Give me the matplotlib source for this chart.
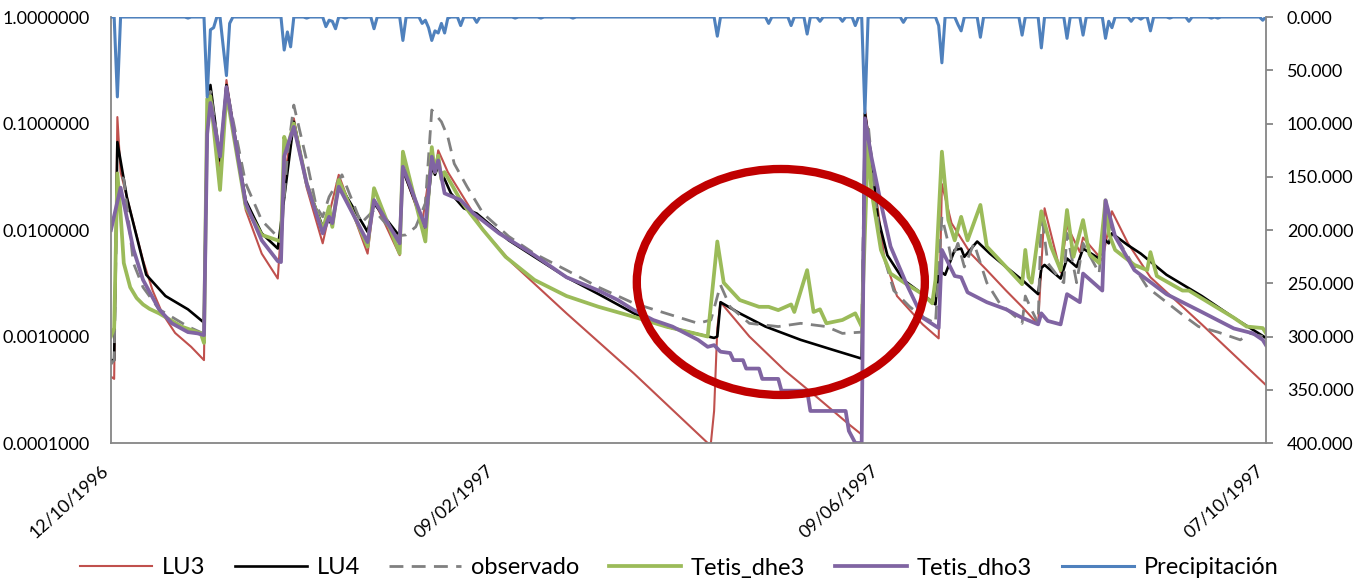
import matplotlib
matplotlib.use("Agg")
import matplotlib.pyplot as plt
import matplotlib.dates as mdates
from matplotlib.patches import Ellipse
from matplotlib.ticker import FuncFormatter, NullLocator
import numpy as np

plt.rcParams['font.family'] = ['Lato', 'DejaVu Sans']

inicio = np.datetime64('1996-10-12')

# caudales simulados y observado (dias desde el 12/10/1996)
lu3_dia = [0, 1, 2, 3, 7, 10, 13, 16, 20, 25,
           29, 30, 31, 34, 36, 42, 47, 52, 54, 57,
           61, 66, 68, 71, 80, 82, 90, 91, 97, 99,
           100, 101, 102, 105, 113, 116, 125, 142, 163, 186,
           187, 188, 189, 190, 199, 210, 220, 230, 234, 235,
           238, 241, 245, 253, 258, 259, 262, 268, 273, 279,
           284, 289, 291, 296, 298, 302, 303, 309, 312, 317,
           324, 340, 360]
lu3_val = [0.00042, 0.0004, 0.115, 0.035, 0.0117, 0.0052, 0.0027, 0.00165, 0.00108, 0.0008,
           0.0006, 0.1, 0.215, 0.039, 0.256, 0.0154, 0.006, 0.0035, 0.03, 0.112,
           0.025, 0.0075, 0.014, 0.033, 0.006, 0.019, 0.0058, 0.0366, 0.0116, 0.03,
           0.045, 0.035, 0.056, 0.035, 0.0143, 0.01, 0.0049, 0.00165, 0.00045, 0.0001,
           0.0001, 0.0002, 0.0012, 0.0021, 0.001, 0.00048, 0.00027, 0.00015, 0.00012, 0.14,
           0.0274, 0.0056, 0.0024, 0.0013, 0.00096, 0.027, 0.0116, 0.006, 0.0042, 0.0027,
           0.0019, 0.0013, 0.016, 0.004, 0.011, 0.0062, 0.0085, 0.0052, 0.015, 0.0075,
           0.0036, 0.0013, 0.00035]

lu4_dia = [0, 1, 2, 5, 11, 17, 24, 29, 30, 31,
           34, 36, 42, 47, 52, 54, 57, 61, 66, 68,
           69, 71, 80, 82, 90, 91, 98, 100, 101, 102,
           104, 106, 110, 114, 124, 132, 142, 152, 163, 173,
           188, 189, 190, 196, 204, 215, 225, 234, 235, 237,
           239, 242, 247, 253, 257, 258, 260, 263, 265, 266,
           270, 274, 279, 284, 289, 290, 291, 296, 298, 301,
           303, 308, 310, 311, 312, 317, 321, 329, 340, 350,
           360]
lu4_val = [0.0006, 0.0006, 0.067, 0.02, 0.0038, 0.0024, 0.0018, 0.00135, 0.1, 0.23,
           0.045, 0.23, 0.019, 0.0093, 0.0067, 0.02, 0.104, 0.0274, 0.0107, 0.0124,
           0.011, 0.0274, 0.0096, 0.0178, 0.0087, 0.0366, 0.0103, 0.04, 0.033, 0.04,
           0.03, 0.022, 0.016, 0.0143, 0.008, 0.0056, 0.0036, 0.0025, 0.00165, 0.00124,
           0.00097, 0.001, 0.0021, 0.00165, 0.00124, 0.00093, 0.00075, 0.00062, 0.125, 0.049,
           0.0133, 0.0058, 0.0034, 0.0025, 0.002, 0.0042, 0.0038, 0.0065, 0.0067, 0.0056,
           0.0078, 0.006, 0.0045, 0.0034, 0.0025, 0.0044, 0.0047, 0.0035, 0.0054, 0.0045,
           0.0067, 0.0054, 0.008, 0.0075, 0.0093, 0.0072, 0.006, 0.0038, 0.0024, 0.0015,
           0.00097]

obs_dia = [0, 1, 2, 4, 7, 10, 15, 24, 29, 30,
           31, 34, 36, 42, 47, 53, 55, 57, 61, 64,
           66, 68, 72, 78, 82, 89, 92, 95, 98, 100,
           103, 105, 107, 111, 116, 124, 132, 142, 152, 163,
           173, 183, 187, 190, 193, 199, 208, 215, 223, 228,
           234, 235, 236, 238, 240, 244, 249, 253, 257, 259,
           261, 262, 264, 266, 269, 273, 277, 282, 284, 285,
           287, 289, 290, 292, 296, 297, 298, 301, 303, 307,
           308, 310, 312, 319, 323, 329, 334, 339, 345, 352,
           355, 359, 360]
obs_val = [0.00055, 0.0006, 0.035, 0.03, 0.0049, 0.0029, 0.0018, 0.00124, 0.00106, 0.1,
           0.2, 0.05, 0.22, 0.0274, 0.0123, 0.008, 0.05, 0.149, 0.045, 0.0166,
           0.0133, 0.0205, 0.033, 0.0116, 0.0154, 0.0088, 0.009, 0.0107, 0.0178, 0.134,
           0.104, 0.075, 0.042, 0.0255, 0.0143, 0.0087, 0.006, 0.0042, 0.0029, 0.00205,
           0.00165, 0.00133, 0.00143, 0.00305, 0.0019, 0.00133, 0.00124, 0.00133, 0.00124, 0.00107,
           0.0011, 0.09, 0.1, 0.0238, 0.007, 0.0027, 0.0019, 0.00153, 0.00133, 0.0133,
           0.0075, 0.0052, 0.0075, 0.0045, 0.0075, 0.0032, 0.00205, 0.00153, 0.00133, 0.0024,
           0.00177, 0.00133, 0.0149, 0.0049, 0.0034, 0.0032, 0.0093, 0.0032, 0.0075, 0.0045,
           0.0039, 0.019, 0.01, 0.0045, 0.0029, 0.0021, 0.0016, 0.00124, 0.0011, 0.00093,
           0.00107, 0.001, 0.00093]

dhe_dia = [0, 1, 2, 3, 4, 6, 8, 10, 12, 15,
           22, 28, 29, 30, 31, 34, 36, 42, 47, 53,
           54, 55, 57, 61, 66, 68, 69, 71, 80, 82,
           90, 91, 98, 100, 101, 102, 103, 104, 109, 112,
           116, 123, 132, 142, 152, 163, 173, 186, 189, 191,
           196, 202, 205, 208, 212, 213, 217, 219, 221, 223,
           228, 232, 234, 236, 237, 240, 243, 248, 253, 256,
           257, 259, 261, 263, 265, 267, 271, 273, 279, 284,
           285, 286, 287, 290, 293, 296, 298, 300, 303, 305,
           308, 310, 311, 313, 319, 323, 324, 326, 334, 336,
           350, 354, 359, 360]
dhe_val = [0.001, 0.0012, 0.034, 0.0143, 0.0049, 0.0029, 0.0023, 0.002, 0.00182, 0.00165,
           0.00124, 0.00107, 0.00087, 0.17, 0.18, 0.0238, 0.193, 0.0166, 0.009, 0.0078,
           0.075, 0.06, 0.1, 0.0274, 0.01, 0.0166, 0.0107, 0.0295, 0.007, 0.0247,
           0.006, 0.0544, 0.0078, 0.06, 0.035, 0.05, 0.03, 0.035, 0.019, 0.0143,
           0.01, 0.0056, 0.0034, 0.0024, 0.0019, 0.00153, 0.00124, 0.001, 0.0078, 0.0032,
           0.0022, 0.0019, 0.0019, 0.00177, 0.002, 0.0017, 0.0042, 0.0017, 0.0018, 0.00133,
           0.00143, 0.00165, 0.00124, 0.07, 0.0238, 0.0065, 0.0039, 0.0031, 0.0025, 0.00205,
           0.0034, 0.0544, 0.0124, 0.008, 0.0133, 0.008, 0.0172, 0.007, 0.0045, 0.0031,
           0.0065, 0.0036, 0.0032, 0.015, 0.007, 0.0042, 0.0154, 0.0056, 0.0124, 0.0059,
           0.0049, 0.019, 0.0093, 0.0065, 0.0047, 0.0042, 0.0062, 0.0037, 0.0027, 0.0027,
           0.0015, 0.00124, 0.0012, 0.00108]

dho_dia = [0, 3, 7, 10, 15, 19, 24, 27, 29, 30,
           31, 34, 36, 42, 47, 52, 53, 54, 57, 61,
           66, 68, 69, 71, 80, 82, 90, 91, 98, 100,
           101, 102, 104, 109, 113, 121, 132, 142, 152, 158,
           163, 169, 175, 181, 183, 186, 188, 190, 193, 194,
           197, 198, 202, 203, 208, 209, 217, 218, 229, 230,
           232, 234, 235, 237, 240, 243, 248, 253, 258, 259,
           263, 265, 267, 273, 279, 284, 289, 290, 292, 296,
           298, 302, 303, 309, 310, 313, 319, 329, 340, 350,
           356, 359, 360]
dho_val = [0.01, 0.025, 0.0066, 0.0034, 0.0018, 0.00133, 0.0011, 0.00107, 0.00103, 0.08,
           0.156, 0.049, 0.22, 0.0178, 0.008, 0.0051, 0.005, 0.049, 0.093, 0.0274,
           0.0093, 0.0133, 0.0116, 0.0255, 0.0077, 0.0191, 0.0075, 0.0393, 0.0107, 0.0488,
           0.035, 0.045, 0.0221, 0.0191, 0.0143, 0.0093, 0.0058, 0.0036, 0.0027, 0.0022,
           0.00177, 0.00143, 0.00124, 0.001, 0.00093, 0.0008, 0.00083, 0.00072, 0.0007, 0.0006,
           0.0006, 0.0005, 0.0005, 0.0004, 0.0004, 0.00031, 0.00031, 0.0002, 0.0002, 0.00013,
           0.0001, 0.0001, 0.112, 0.0488, 0.0178, 0.007, 0.0031, 0.0015, 0.0012, 0.0065,
           0.0037, 0.0036, 0.0026, 0.0021, 0.0018, 0.0015, 0.0013, 0.00165, 0.0014, 0.0013,
           0.0025, 0.0021, 0.0039, 0.0027, 0.019, 0.0087, 0.0042, 0.0025, 0.0017, 0.00119,
           0.00107, 0.00093, 0.00083]

# precipitacion diaria (solo dias con lluvia, el resto 0)
lluvia_dia = [2, 24, 30, 31, 32, 35, 36, 37, 54, 55,
              56, 61, 67, 68, 69, 70, 73, 82, 91, 97,
              98, 99, 100, 101, 102, 103, 104, 105, 109, 114,
              126, 134, 144, 189, 205, 212, 217, 221, 228, 232,
              235, 247, 258, 259, 264, 265, 271, 284, 290, 298,
              303, 310, 311, 312, 318, 321, 324, 330, 336, 343,
              345, 359]
lluvia_mm = [75, 1, 75, 12, 10, 28, 55, 6, 31, 14,
             28, 1, 9, 3, 4, 11, 1, 11, 22, 6,
             3, 10, 22, 13, 15, 6, 15, 1, 8, 5,
             1, 1, 1, 18, 6, 8, 16, 4, 4, 8,
             90, 5, 8, 43, 7, 13, 19, 17, 29, 20,
             17, 20, 4, 10, 4, 2, 13, 1, 4, 1,
             1, 3]

etiquetas_dias = [0, 120, 240, 360]


def fechas(dias):
    return inicio + np.array(dias, dtype='timedelta64[D]')


precip = np.zeros(361)
precip[lluvia_dia] = lluvia_mm

fig = plt.figure(figsize=(13.58, 5.81), dpi=100)
ax = fig.add_axes([0.0817, 0.2375, 0.8505, 0.7332])
ax2 = ax.twinx()

gris = '#868686'
l1, = ax.plot(fechas(lu3_dia), lu3_val, color='#C0504D', lw=1.5, label='LU3')
l2, = ax.plot(fechas(lu4_dia), lu4_val, color='black', lw=1.9, label='LU4')
l3, = ax.plot(fechas(obs_dia), obs_val, color='#808080', lw=2.0, dashes=(5, 3),
              label='observado')
l4, = ax.plot(fechas(dhe_dia), dhe_val, color='#9BBB59', lw=2.7, label='Tetis_dhe3')
l5, = ax.plot(fechas(dho_dia), dho_val, color='#8064A2', lw=2.7, label='Tetis_dho3')
l6, = ax2.plot(fechas(np.arange(361)), precip, color='#4F81BD', lw=2.2,
               label='Precipitación')

ax.set_yscale('log')
ax.set_ylim(1e-4, 1)
ax.set_yticks([1e-4, 1e-3, 1e-2, 1e-1, 1])
ax.yaxis.set_minor_locator(NullLocator())
ax.yaxis.set_major_formatter(FuncFormatter(lambda v, p: f'{v:.7f}'))

ax.set_xlim(fechas([0])[0], fechas([360])[0])
ax.set_xticks(fechas(etiquetas_dias))
ax.xaxis.set_major_formatter(mdates.DateFormatter('%d/%m/%Y'))
for t in ax.get_xticklabels():
    t.set_rotation(42)
    t.set_ha('right')

ax2.set_ylim(400, 0)
ax2.set_yticks(np.arange(0, 401, 50))
ax2.yaxis.set_major_formatter(FuncFormatter(lambda v, p: f'{v:.3f}'))

for a in (ax, ax2):
    a.spines['top'].set_visible(False)
    for s in a.spines.values():
        s.set_color(gris)
        s.set_linewidth(1.3)
ax.spines['right'].set_visible(False)
ax2.spines['left'].set_visible(False)
ax2.spines['bottom'].set_visible(False)

ax.tick_params(axis='y', length=0, pad=15, labelsize=13)
ax.tick_params(axis='x', length=0, pad=14, labelsize=13)
ax2.tick_params(axis='y', length=5, width=1.3, color=gris, pad=10, labelsize=13)

# marca de la zona de interes
ax2.add_patch(Ellipse((0.580, 0.378), 0.2494, 0.5305, transform=ax.transAxes,
                      fill=False, edgecolor='#C00000', lw=6, clip_on=False, zorder=10))

fig.legend([l1, l2, l3, l4, l5, l6], [h.get_label() for h in (l1, l2, l3, l4, l5, l6)],
           loc='center', bbox_to_anchor=(0.5, 1 - 568 / 581), ncol=6, frameon=False,
           fontsize=17, handlelength=3.05, handletextpad=0.42, columnspacing=1.25)

fig.savefig('out.png', dpi=100)
